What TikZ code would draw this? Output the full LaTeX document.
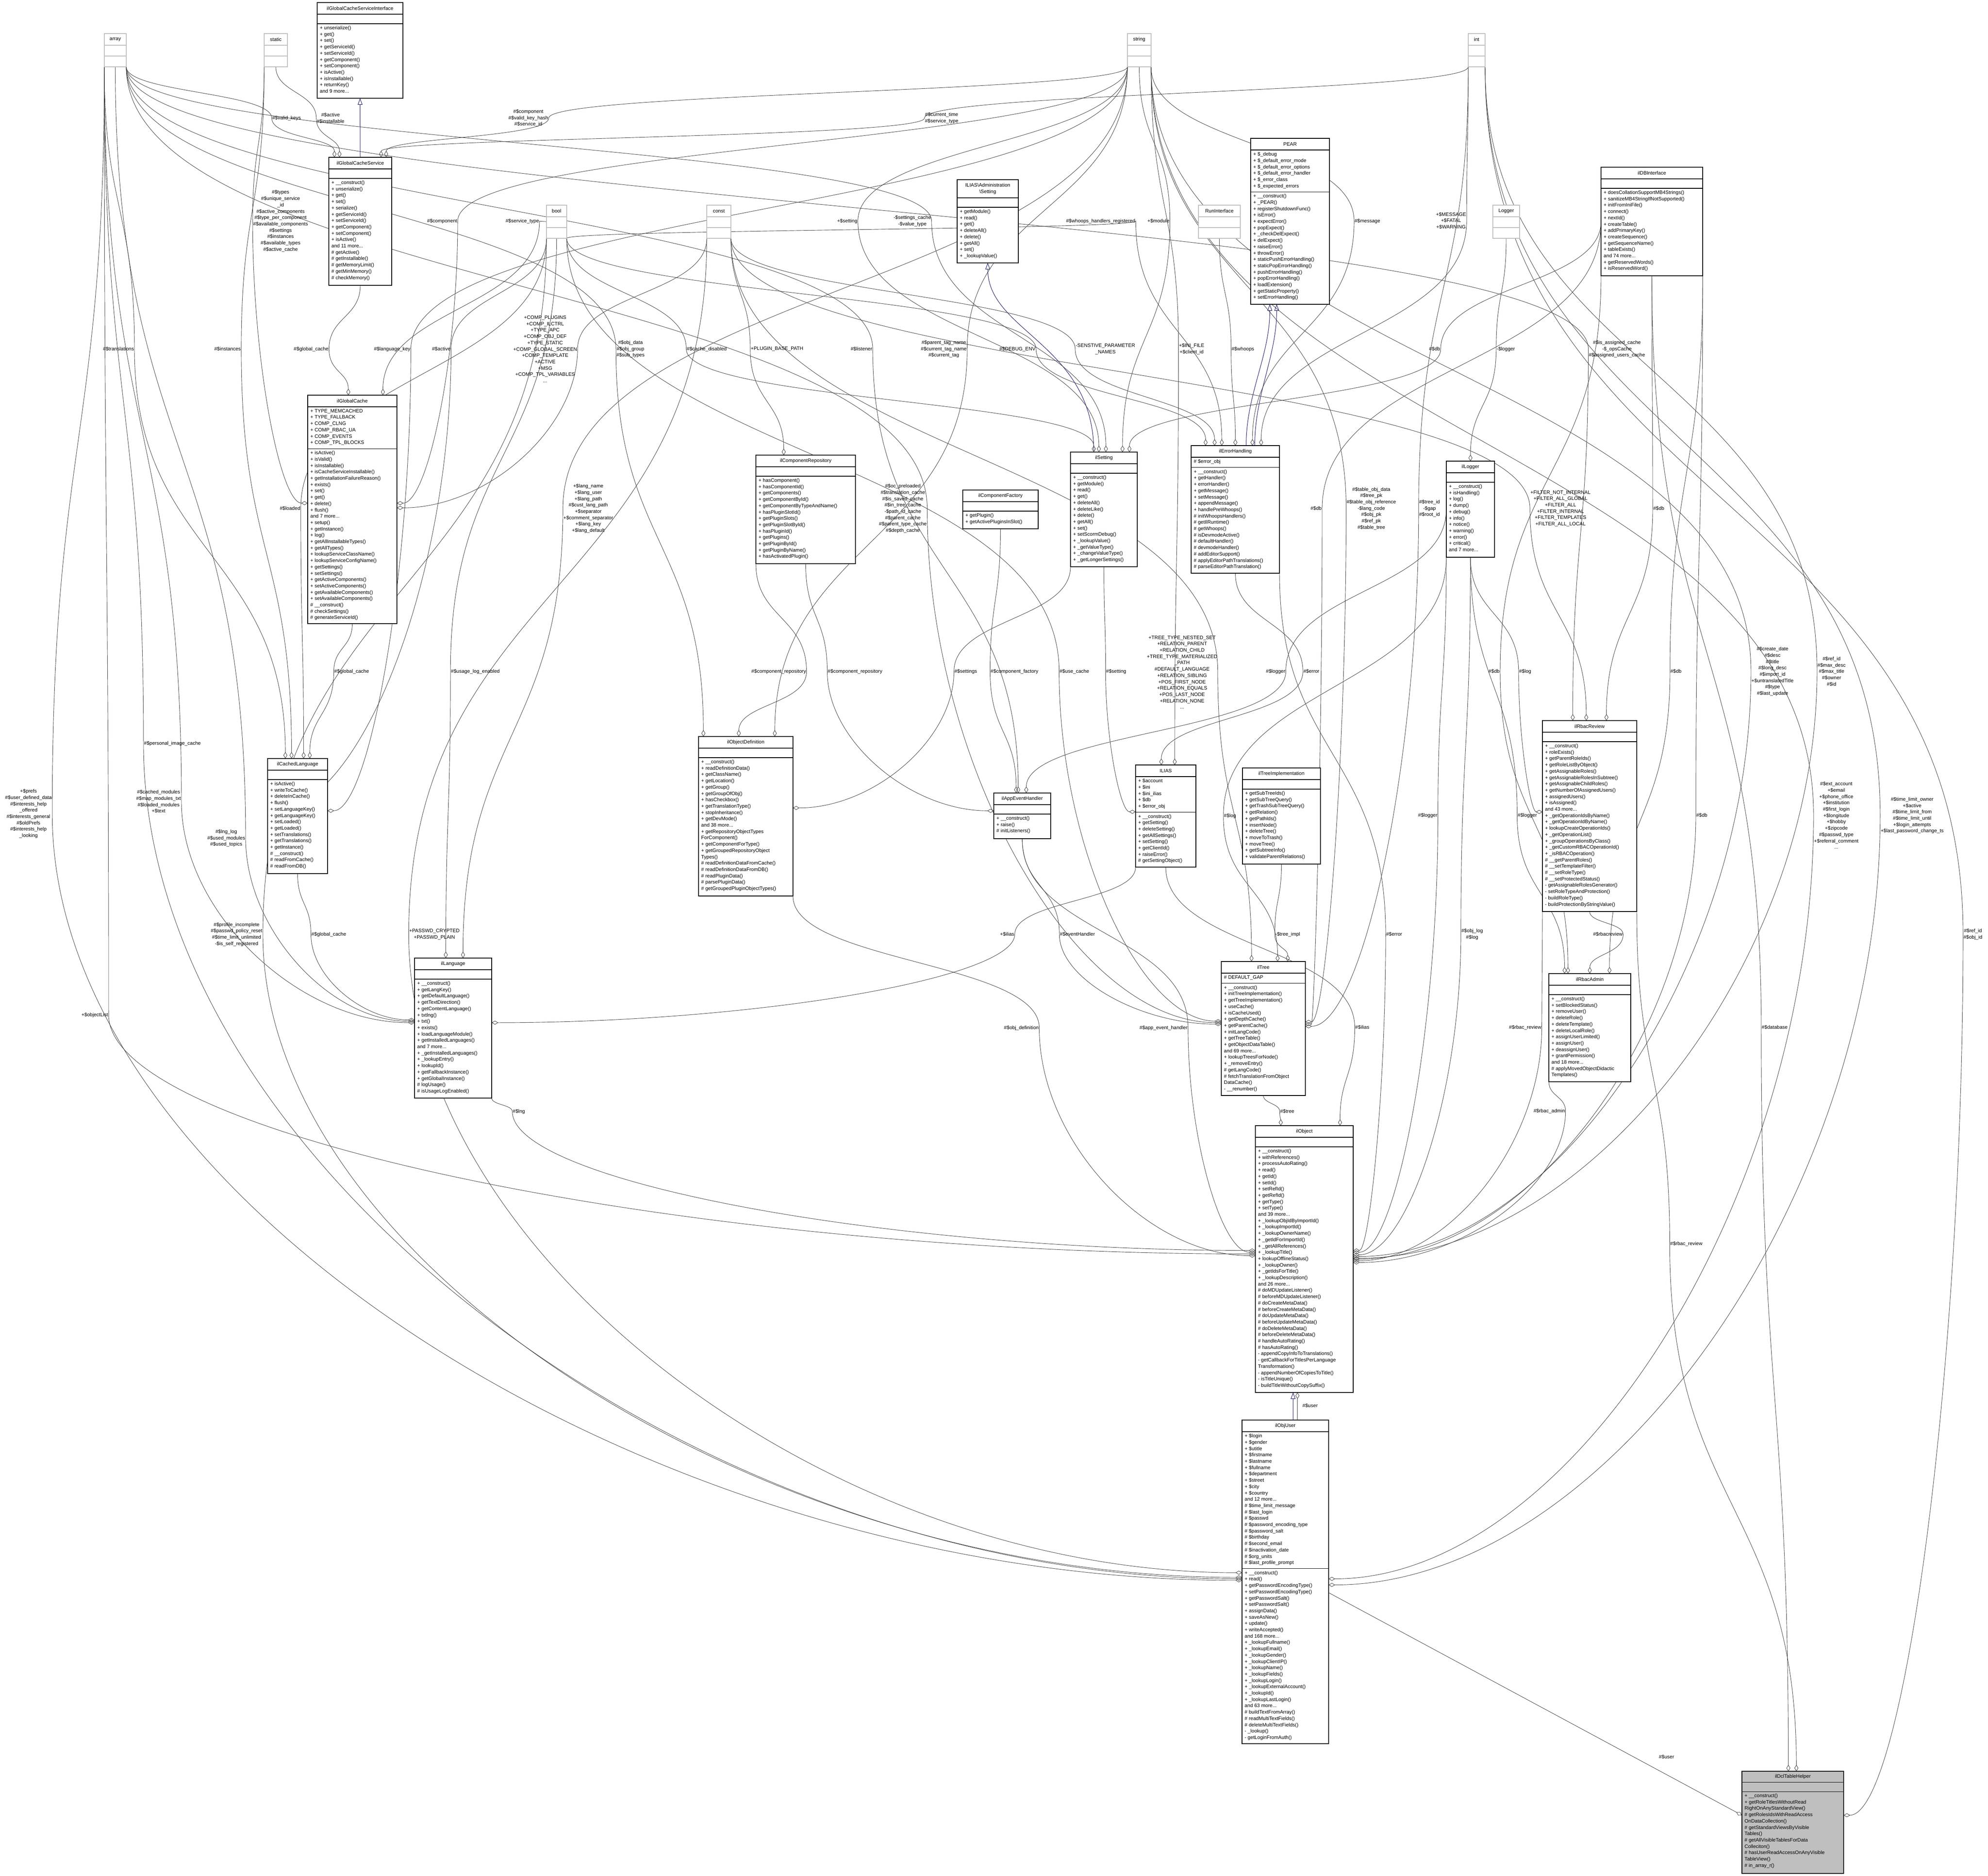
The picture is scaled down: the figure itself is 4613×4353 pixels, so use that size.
\documentclass[tikz,border=0pt]{standalone}
\usepackage{fontspec}
\setmainfont{Liberation Sans}
\usetikzlibrary{arrows.meta,calc}
\pgfdeclarelayer{bg}
\pgfsetlayers{bg,main}
\newcommand\mf{\fontsize{11.5}{14.7}\selectfont}
\definecolor{lgrey}{HTML}{BFBFBF}
\definecolor{inhblue}{HTML}{191970}
\def\clsfill{white}
\tikzset{
 clsbox/.style={draw,line width=1.4pt,inner sep=0pt,outer sep=0pt,anchor=north west},
 secline/.style={line width=1.1pt},
 gboxst/.style={draw=lgrey,line width=1.3pt,fill=white,inner sep=0pt,outer sep=0pt,anchor=north west,minimum height=77pt},
 ttl/.style={font=\mf,align=center,inner sep=0pt},
 mem/.style={font=\mf,align=left,inner sep=0pt,anchor=north west},
 lbl/.style={font=\mf,align=center,inner sep=1pt},
 agg/.style={draw=black!75,line width=0.9pt,-{Diamond[open,length=15pt,width=9pt,line width=0.9pt]}},
 inh/.style={draw=inhblue,line width=1pt,-{Triangle[open,length=15pt,width=11pt,line width=1pt]}}
}
\newcommand\cls[8][27]{%
 \pgfmathsetmacro\sA{#4+#1}%
 \pgfmathsetmacro\sB{\sA+max(22,#7*14.7+9)}%
 \node[clsbox,fill=\clsfill,minimum width={(#5-#3)*1pt},minimum height={(#6-#4)*1pt}] (#2) at (#3,#4) {};
 \draw[secline] (#3,\sA) -- (#5,\sA) (#3,\sB) -- (#5,\sB);
 \coordinate (#2-a) at ({#3+6},{\sA+5});
 \coordinate (#2-m) at ({#3+6},{\sB+5});
 \node[ttl] at ({(#3+#5)/2},{#4+#1/2}) {#8};
}
\newcommand\gbox[5][78]{%
 \node[gboxst,minimum width={(#4-#3)*1pt}] (#2) at (#3,#1) {};
 \draw[draw=lgrey,line width=1.1pt] (#3,#1+27) -- (#4,#1+27) (#3,#1+52) -- (#4,#1+52);
 \node[ttl] at ({(#3+#4)/2},{#1+13.5}) {#5};
}
\newcommand\ev[3]{\draw[agg] (#1) .. controls ($(#1)!0.5!(#1|-#2)$) and ($(#2)!0.5!(#2|-#1)$) .. (#2) .. controls ($(#2)!0.5!(#2|-#3)$) and ($(#3)!0.5!(#3|-#2)$) .. (#3);}
\newcommand\eh[3]{\draw[agg] (#1) .. controls ($(#1)!0.5!(#1|-#2)$) and ($(#2)!0.5!(#2|-#1)$) .. (#2) .. controls ($(#2)!0.5!(#2|-#3)$) and ($(#3)!0.5!(#3-|#2)$) .. (#3);}
\begin{document}
\begin{tikzpicture}[x=1pt,y=-1pt]
\begin{pgfonlayer}{bg}
\fill[white] (0,0) rectangle (4613,4353);
\end{pgfonlayer}
\useasboundingbox (0,0) rectangle (4613,4353);
% ---------- grey type boxes
\gbox{array}{242}{293}{array}
\gbox{static}{613}{667}{static}
\gbox{string}{2616}{2671}{string}
\gbox{int}{3407}{3446}{int}
\gbox[476]{bool}{1268}{1315}{bool}
\gbox[476]{const}{1640}{1696}{const}
\gbox[476]{RunInterface}{2781}{2878}{RunInterface}
\gbox[476]{Logger}{3464}{3526}{Logger}
% ---------- classes
\cls{IGCSI}{736}{6}{935}{228}{0}{ilGlobalCacheServiceInterface}
\node[mem] at (IGCSI-m) {+ unserialize()\\+ get()\\+ set()\\+ getServiceId()\\+ setServiceId()\\+ getComponent()\\+ setComponent()\\+ isActive()\\+ isInstallable()\\+ returnKey()\\and 9 more...};
\cls{IGCS}{763}{365}{909}{662}{0}{ilGlobalCacheService}
\node[mem] at (IGCS-m) {+ \_\_construct()\\+ unserialize()\\+ get()\\+ set()\\+ serialize()\\+ getServiceId()\\+ setServiceId()\\+ getComponent()\\+ setComponent()\\+ isActive()\\and 11 more...\\\# getActive()\\\# getInstallable()\\\# getMemoryLimit()\\\# getMinMemory()\\\# checkMemory()};
\cls{ilGlobalCache}{714}{917}{921}{1447}{6}{ilGlobalCache}
\node[mem] at (ilGlobalCache-a) {+ TYPE\_MEMCACHED\\+ TYPE\_FALLBACK\\+ COMP\_CLNG\\+ COMP\_RBAC\_UA\\+ COMP\_EVENTS\\+ COMP\_TPL\_BLOCKS};
\node[mem] at (ilGlobalCache-m) {+ isActive()\\+ isValid()\\+ isInstallable()\\+ isCacheServiceInstallable()\\+ getInstallationFailureReason()\\+ exists()\\+ set()\\+ get()\\+ delete()\\+ flush()\\and 7 more...\\+ setup()\\+ getInstance()\\+ log()\\+ getAllInstallableTypes()\\+ getAllTypes()\\+ lookupServiceClassName()\\+ lookupServiceConfigName()\\+ getSettings()\\+ setSettings()\\+ getActiveComponents()\\+ setActiveComponents()\\+ getAvailableComponents()\\+ setAvailableComponents()\\\# \_\_construct()\\\# checkSettings()\\\# generateServiceId()};
\cls[42]{ASetting}{2221}{417}{2363}{610}{0}{ILIAS\textbackslash Administration\\\textbackslash Setting}
\node[mem] at (ASetting-m) {+ getModule()\\+ read()\\+ get()\\+ deleteAll()\\+ delete()\\+ getAll()\\+ set()\\+ \_lookupValue()};
\cls{PEAR}{2902}{321}{3085}{706}{6}{PEAR}
\node[mem] at (PEAR-a) {+ \$\_debug\\+ \$\_default\_error\_mode\\+ \$\_default\_error\_options\\+ \$\_default\_error\_handler\\+ \$\_error\_class\\+ \$\_expected\_errors};
\node[mem] at (PEAR-m) {+ \_\_construct()\\+ \_PEAR()\\+ registerShutdownFunc()\\+ isError()\\+ expectError()\\+ popExpect()\\+ \_checkDelExpect()\\+ delExpect()\\+ raiseError()\\+ throwError()\\+ staticPushErrorHandling()\\+ staticPopErrorHandling()\\+ pushErrorHandling()\\+ popErrorHandling()\\+ loadExtension()\\+ getStaticProperty()\\+ setErrorHandling()};
\cls{ilDBInterface}{3715}{388}{3951}{640}{0}{ilDBInterface}
\node[mem] at (ilDBInterface-m) {+ doesCollationSupportMB4Strings()\\+ sanitizeMB4StringIfNotSupported()\\+ initFromIniFile()\\+ connect()\\+ nextId()\\+ createTable()\\+ addPrimaryKey()\\+ createSequence()\\+ getSequenceName()\\+ tableExists()\\and 74 more...\\+ getReservedWords()\\+ isReservedWord()};
\cls{ilComponentRepository}{1754}{1056}{1985}{1308}{0}{ilComponentRepository}
\node[mem] at (ilComponentRepository-m) {+ hasComponent()\\+ hasComponentId()\\+ getComponents()\\+ getComponentById()\\+ getComponentByTypeAndName()\\+ hasPluginSlotId()\\+ getPluginSlots()\\+ getPluginSlotById()\\+ hasPluginId()\\+ getPlugins()\\+ getPluginById()\\+ getPluginByName()\\+ hasActivatedPlugin()};
\cls{ilComponentFactory}{2234}{1137}{2409}{1227}{0}{ilComponentFactory}
\node[mem] at (ilComponentFactory-m) {+ getPlugin()\\+ getActivePluginsInSlot()};
\cls{ilSetting}{2484}{1049}{2639}{1315}{0}{ilSetting}
\node[mem] at (ilSetting-m) {+ \_\_construct()\\+ getModule()\\+ read()\\+ get()\\+ deleteAll()\\+ deleteLike()\\+ delete()\\+ getAll()\\+ set()\\+ setScormDebug()\\+ \_lookupValue()\\+ \_getValueType()\\+ \_changeValueType()\\+ \_getLongerSettings()};
\cls{ilErrorHandling}{2764}{1034}{2969}{1330}{1}{ilErrorHandling}
\node[mem] at (ilErrorHandling-a) {\# \$error\_obj};
\node[mem] at (ilErrorHandling-m) {+ \_\_construct()\\+ getHandler()\\+ errorHandler()\\+ getMessage()\\+ setMessage()\\+ appendMessage()\\+ handlePreWhoops()\\\# initWhoopsHandlers()\\\# getIlRuntime()\\\# getWhoops()\\\# isDevmodeActive()\\\# defaultHandler()\\\# devmodeHandler()\\\# addEditorSupport()\\\# applyEditorPathTranslations()\\\# parseEditorPathTranslation()};
\cls{ilLogger}{3356}{1070}{3468}{1293}{0}{ilLogger}
\node[mem] at (ilLogger-m) {+ \_\_construct()\\+ isHandling()\\+ log()\\+ dump()\\+ debug()\\+ info()\\+ notice()\\+ warning()\\+ error()\\+ critical()\\and 7 more...};
\cls{ilCachedLanguage}{621}{1760}{760}{2027}{0}{ilCachedLanguage}
\node[mem] at (ilCachedLanguage-m) {+ isActive()\\+ writeToCache()\\+ deleteInCache()\\+ flush()\\+ setLanguageKey()\\+ getLanguageKey()\\+ setLoaded()\\+ getLoaded()\\+ setTranslations()\\+ getTranslations()\\+ getInstance()\\\# \_\_construct()\\\# readFromCache()\\\# readFromDB()};
\cls{ilObjectDefinition}{1621}{1709}{1840}{2079}{0}{ilObjectDefinition}
\node[mem] at (ilObjectDefinition-m) {+ \_\_construct()\\+ readDefinitionData()\\+ getClassName()\\+ getLocation()\\+ getGroup()\\+ getGroupOfObj()\\+ hasCheckbox()\\+ getTranslationType()\\+ stopInheritance()\\+ getDevMode()\\and 38 more...\\+ getRepositoryObjectTypes\\ForComponent()\\+ getComponentForType()\\+ getGroupedRepositoryObject\\Types()\\\# readDefinitionDataFromCache()\\\# readDefinitionDataFromDB()\\\# readPluginData()\\\# parsePluginData()\\\# getGroupedPluginObjectTypes()};
\cls{ilAppEventHandler}{2306}{1840}{2438}{1946}{0}{ilAppEventHandler}
\node[mem] at (ilAppEventHandler-m) {+ \_\_construct()\\+ raise()\\\# initListeners()};
\cls{ILIAS}{2635}{1775}{2775}{2012}{5}{ILIAS}
\node[mem] at (ILIAS-a) {+ \$account\\+ \$ini\\+ \$ini\_ilias\\+ \$db\\+ \$error\_obj};
\node[mem] at (ILIAS-m) {+ \_\_construct()\\+ getSetting()\\+ deleteSetting()\\+ getAllSettings()\\+ setSetting()\\+ getClientId()\\+ raiseError()\\\# getSettingObject()};
\cls{ilTreeImplementation}{2883}{1782}{3064}{2005}{0}{ilTreeImplementation}
\node[mem] at (ilTreeImplementation-m) {+ getSubTreeIds()\\+ getSubTreeQuery()\\+ getTrashSubTreeQuery()\\+ getRelation()\\+ getPathIds()\\+ insertNode()\\+ deleteTree()\\+ moveToTrash()\\+ moveTree()\\+ getSubtreeInfo()\\+ validateParentRelations()};
\cls{ilRbacReview}{3579}{1672}{3798}{2115}{0}{ilRbacReview}
\node[mem] at (ilRbacReview-m) {+ \_\_construct()\\+ roleExists()\\+ getParentRoleIds()\\+ getRoleListByObject()\\+ getAssignableRoles()\\+ getAssignableRolesInSubtree()\\+ getAssignableChildRoles()\\+ getNumberOfAssignedUsers()\\+ assignedUsers()\\+ isAssigned()\\and 43 more...\\+ \_getOperationIdsByName()\\+ \_getOperationIdByName()\\+ lookupCreateOperationIds()\\+ \_getOperationList()\\+ \_groupOperationsByClass()\\+ \_getCustomRBACOperationId()\\+ \_isRBACOperation()\\\# \_\_getParentRoles()\\\# \_\_setTemplateFilter()\\\# \_\_setRoleType()\\\# \_\_setProtectedStatus()\\- getAssignableRolesGenerator()\\- setRoleTypeAndProtection()\\- buildRoleType()\\- buildProtectionByStringValue()};
\cls{ilRbacAdmin}{3594}{2259}{3784}{2510}{0}{ilRbacAdmin}
\node[mem] at (ilRbacAdmin-m) {+ \_\_construct()\\+ setBlockedStatus()\\+ removeUser()\\+ deleteRole()\\+ deleteTemplate()\\+ deleteLocalRole()\\+ assignUserLimited()\\+ assignUser()\\+ deassignUser()\\+ grantPermission()\\and 18 more...\\\# applyMovedObjectDidactic\\Templates()};
\cls{ilLanguage}{962}{2223}{1141}{2548}{0}{ilLanguage}
\node[mem] at (ilLanguage-m) {+ \_\_construct()\\+ getLangKey()\\+ getDefaultLanguage()\\+ getTextDirection()\\+ getContentLanguage()\\+ txtlng()\\+ txt()\\+ exists()\\+ loadLanguageModule()\\+ getInstalledLanguages()\\and 7 more...\\+ \_getInstalledLanguages()\\+ \_lookupEntry()\\+ lookupId()\\+ getFallbackInstance()\\+ getGlobalInstance()\\\# logUsage()\\\# isUsageLogEnabled()};
\cls{ilTree}{2834}{2231}{3029}{2542}{1}{ilTree}
\node[mem] at (ilTree-a) {\# DEFAULT\_GAP};
\node[mem] at (ilTree-m) {+ \_\_construct()\\+ initTreeImplementation()\\+ getTreeImplementation()\\+ useCache()\\+ isCacheUsed()\\+ getDepthCache()\\+ getParentCache()\\+ initLangCode()\\+ getTreeTable()\\+ getObjectDataTable()\\and 69 more...\\+ lookupTreesForNode()\\+ \_removeEntry()\\\# getLangCode()\\\# fetchTranslationFromObject\\DataCache()\\- \_\_renumber()};
\cls{ilObject}{2913}{2612}{3140}{3231}{0}{ilObject}
\node[mem] at (ilObject-m) {+ \_\_construct()\\+ withReferences()\\+ processAutoRating()\\+ read()\\+ getId()\\+ setId()\\+ setRefId()\\+ getRefId()\\+ getType()\\+ setType()\\and 39 more...\\+ \_lookupObjIdByImportId()\\+ \_lookupImportId()\\+ \_lookupOwnerName()\\+ \_getIdForImportId()\\+ \_getAllReferences()\\+ \_lookupTitle()\\+ lookupOfflineStatus()\\+ \_lookupOwner()\\+ \_getIdsForTitle()\\+ \_lookupDescription()\\and 26 more...\\\# doMDUpdateListener()\\\# beforeMDUpdateListener()\\\# doCreateMetaData()\\\# beforeCreateMetaData()\\\# doUpdateMetaData()\\\# beforeUpdateMetaData()\\\# doDeleteMetaData()\\\# beforeDeleteMetaData()\\\# handleAutoRating()\\\# hasAutoRating()\\- appendCopyInfoToTranslations()\\- getCallbackForTitlesPerLanguage\\Transformation()\\- appendNumberOfCopiesToTitle()\\- isTitleUnique()\\- buildTitleWithoutCopySuffix()};
\cls{ilObjUser}{2882}{3295}{3083}{4046}{21}{ilObjUser}
\node[mem] at (ilObjUser-a) {+ \$login\\+ \$gender\\+ \$utitle\\+ \$firstname\\+ \$lastname\\+ \$fullname\\+ \$department\\+ \$street\\+ \$city\\+ \$country\\and 12 more...\\\# \$time\_limit\_message\\\# \$last\_login\\\# \$passwd\\\# \$password\_encoding\_type\\\# \$password\_salt\\\# \$birthday\\\# \$second\_email\\\# \$inactivation\_date\\\# \$org\_units\\\# \$last\_profile\_prompt};
\node[mem] at (ilObjUser-m) {+ \_\_construct()\\+ read()\\+ getPasswordEncodingType()\\+ setPasswordEncodingType()\\+ getPasswordSalt()\\+ setPasswordSalt()\\+ assignData()\\+ saveAsNew()\\+ update()\\+ writeAccepted()\\and 168 more...\\+ \_lookupFullname()\\+ \_lookupEmail()\\+ \_lookupGender()\\+ \_lookupClientIP()\\+ \_lookupName()\\+ \_lookupFields()\\+ \_lookupLogin()\\+ \_lookupExternalAccount()\\+ \_lookupId()\\+ \_lookupLastLogin()\\and 63 more...\\\# buildTextFromArray()\\\# readMultiTextFields()\\\# deleteMultiTextFields()\\- \_lookup()\\- getLoginFromAuth()};
\def\clsfill{lgrey}
\cls[25]{ilDclTableHelper}{4042}{4110}{4278}{4347}{0}{ilDclTableHelper}
\node[mem] at (ilDclTableHelper-m) {+ \_\_construct()\\+ getRoleTitlesWithoutRead\\RightOnAnyStandardView()\\\# getRolesIdsWithReadAccess\\OnDataCollection()\\\# getStandardViewsByVisible\\Tables()\\\# getAllVisibleTablesForData\\Colleciton()\\\# hasUserReadAccessOnAnyVisible\\TableView()\\\# in\_array\_r()};
% ---------- labels
\node[lbl] (La1) at (665,274) {\#\$valid\_keys};
\node[lbl] (La2) at (767,274) {\#\$active\\\#\$installable};
\node[lbl] (La3) at (1226,274) {\#\$component\\\#\$valid\_key\_hash\\\#\$service\_id};
\node[lbl] (La4) at (2185,274) {\#\$current\_time\\\#\$service\_type};
\node[lbl] (La5) at (1212,513) {\#\$service\_type};
\node[lbl] (La6) at (651,513) {\#\$types\\\#\$unique\_service\\\_id\\\#\$active\_components\\\#\$type\_per\_component\\\#\$available\_components\\\#\$settings\\\#\$instances\\\#\$available\_types\\\#\$active\_cache};
\node[lbl] (La7) at (722,810) {\#\$global\_cache};
\node[lbl] (La8) at (1026,513) {\#\$component};
\node[lbl] (La9) at (275,810) {\#\$translations};
\node[lbl] (La10) at (528,810) {\#\$instances};
\node[lbl] (La11) at (910,810) {\#\$language\_key};
\node[lbl] (La12) at (1024,810) {\#\$active};
\node[lbl] (La13) at (673,1180) {\#\$loaded};
\node[lbl] (La14) at (816,1558) {\#\$global\_cache};
\node[lbl] (La15) at (1265,810) {+COMP\_PLUGINS\\+COMP\_ILCTRL\\+TYPE\_APC\\+COMP\_OBJ\_DEF\\+TYPE\_STATIC\\+COMP\_GLOBAL\_SCREEN\\+COMP\_TEMPLATE\\+ACTIVE\\+MSG\\+COMP\_TPL\_VARIABLES\\...};
\node[lbl] (La16) at (1103,1558) {\#\$usage\_log\_enabled};
\node[lbl] (La17) at (1365,1180) {+\$lang\_name\\+\$lang\_user\\+\$lang\_path\\\#\$cust\_lang\_path\\+\$separator\\+\$comment\_separator\\+\$lang\_key\\+\$lang\_default};
\node[lbl] (La18) at (1008,2168) {+PASSWD\_CRYPTED\\+PASSWD\_PLAIN};
\node[lbl] (La19) at (368,1860) {\#\$cached\_modules\\\#\$map\_modules\_txt\\\#\$loaded\_modules\\+\$text};
\node[lbl] (La20) at (525,1945) {\#\$lng\_log\\\#\$used\_modules\\\#\$used\_topics};
\node[lbl] (La21) at (763,2168) {\#\$global\_cache};
\node[lbl] (La22) at (549,2168) {\#\$profile\_incomplete\\\#\$passwd\_policy\_reset\\\#\$time\_limit\_unlimited\\-\$is\_self\_registered};
\node[lbl] (La23) at (400,1725) {\#\$personal\_image\_cache};
\node[lbl] (La24) at (1204,2579) {\#\$lng};
\node[lbl] (La25) at (66,1888) {+\$prefs\\\#\$user\_defined\_data\\\#\$interests\_help\\\_offered\\\#\$interests\_general\\\#\$oldPrefs\\\#\$interests\_help\\\_looking};
\node[lbl] (La26) at (220,2355) {+\$objectList};
\node[lbl] (La27) at (1463,810) {\#\$obj\_data\\\#\$obj\_group\\\#\$sub\_types};
\node[lbl] (La28) at (1640,810) {\#\$cache\_disabled};
\node[lbl] (La29) at (1803,810) {+PLUGIN\_BASE\_PATH};
\node[lbl] (La30) at (1999,810) {\#\$listener};
\node[lbl] (La31) at (1966,513) {+\$setting};
\node[lbl] (La32) at (2117,513) {-\$settings\_cache\\-\$value\_type};
\node[lbl] (La33) at (2190,810) {\#\$parent\_tag\_name\\\#\$current\_tag\_name\\\#\$current\_tag};
\node[lbl] (La34) at (2361,810) {\#\$DEBUG\_ENV};
\node[lbl] (La35) at (2565,810) {-SENSTIVE\_PARAMETER\\\_NAMES};
\node[lbl] (La36) at (2554,513) {\#\$whoops\_handlers\_registered};
\node[lbl] (La37) at (2688,513) {+\$module};
\node[lbl] (La38) at (2765,810) {+\$INI\_FILE\\+\$client\_id};
\node[lbl] (La39) at (2884,810) {\#\$whoops};
\node[lbl] (La40) at (3173,513) {\#\$message};
\node[lbl] (La41) at (3367,512) {+\$MESSAGE\\+\$FATAL\\+\$WARNING};
\node[lbl] (La42) at (3329,810) {\#\$db};
\node[lbl] (La43) at (3494,810) {-\$logger};
\node[lbl] (La44) at (3752,810) {\#\$is\_assigned\_cache\\-\$\_opsCache\\\#\$assigned\_users\_cache};
\node[lbl] (La45) at (2095,1180) {\#\$oc\_preloaded\\\#\$translation\_cache\\\#\$is\_saved\_cache\\\#\$in\_tree\_cache\\-\$path\_id\_cache\\\#\$parent\_cache\\\#\$parent\_type\_cache\\\#\$depth\_cache};
\node[lbl] (La46) at (1807,1558) {\#\$component\_repository};
\node[lbl] (La47) at (1984,1558) {\#\$component\_repository};
\node[lbl] (La48) at (2241,1558) {\#\$settings};
\node[lbl] (La49) at (2354,1558) {\#\$component\_factory};
\node[lbl] (La50) at (2493,1558) {\#\$use\_cache};
\node[lbl] (La51) at (2590,1558) {\#\$setting};
\node[lbl] (La52) at (2743,1560) {+TREE\_TYPE\_NESTED\_SET\\+RELATION\_PARENT\\+RELATION\_CHILD\\+TREE\_TYPE\_MATERIALIZED\\\_PATH\\\#DEFAULT\_LANGUAGE\\+RELATION\_SIBLING\\+POS\_FIRST\_NODE\\+RELATION\_EQUALS\\+POS\_LAST\_NODE\\+RELATION\_NONE\\...};
\node[lbl] (La53) at (3054,1180) {\#\$db};
\node[lbl] (La54) at (2960,1558) {\#\$logger};
\node[lbl] (La55) at (3043,1558) {\#\$error};
\node[lbl] (La56) at (2854,1893) {\#\$log};
\node[lbl] (La57) at (2337,2168) {+\$ilias};
\node[lbl] (La58) at (2500,2168) {\#\$eventHandler};
\node[lbl] (La59) at (2988,2168) {-\$tree\_impl};
\node[lbl] (La60) at (3182,1180) {\#\$table\_obj\_data\\\#\$tree\_pk\\\#\$table\_obj\_reference\\-\$lang\_code\\\#\$obj\_pk\\\#\$ref\_pk\\\#\$table\_tree};
\node[lbl] (La61) at (3317,1180) {\#\$tree\_id\\-\$gap\\\#\$root\_id};
\node[lbl] (La62) at (3621,1180) {+FILTER\_NOT\_INTERNAL\\+FILTER\_ALL\_GLOBAL\\+FILTER\_ALL\\+FILTER\_INTERNAL\\+FILTER\_TEMPLATES\\+FILTER\_ALL\_LOCAL};
\node[lbl] (La63) at (3849,1180) {\#\$db};
\node[lbl] (La64) at (3467,1558) {\#\$db};
\node[lbl] (La65) at (3539,1558) {\#\$log};
\node[lbl] (La66) at (3889,1558) {\#\$db};
\node[lbl] (La67) at (4113,1558) {\#\$create\_date\\\#\$desc\\\#\$title\\\#\$long\_desc\\\#\$import\_id\\+\$untranslatedTitle\\\#\$type\\\#\$last\_update};
\node[lbl] (La68) at (4250,1558) {\#\$ref\_id\\\#\$max\_desc\\\#\$max\_title\\\#\$owner\\\#\$id};
\node[lbl] (La69) at (3313,1892) {\#\$logger};
\node[lbl] (La70) at (3544,1892) {\#\$logger};
\node[lbl] (La71) at (3949,1892) {\#\$db};
\node[lbl] (La72) at (4261,1892) {\#\$ext\_account\\+\$email\\+\$phone\_office\\+\$institution\\\#\$first\_login\\+\$longitude\\+\$hobby\\+\$zipcode\\\#\$passwd\_type\\+\$referral\_comment\\...};
\node[lbl] (La73) at (4437,1892) {\#\$time\_limit\_owner\\+\$active\\\#\$time\_limit\_from\\\#\$time\_limit\_until\\+\$login\_attempts\\+\$last\_password\_change\_ts};
\node[lbl] (La74) at (3235,2168) {\#\$error};
\node[lbl] (La75) at (3416,2168) {\#\$obj\_log\\\#\$log};
\node[lbl] (La76) at (3731,2168) {\#\$rbacreview};
\node[lbl] (La77) at (4578,2168) {\#\$ref\_id\\\#\$obj\_id};
\node[lbl] (La78) at (3161,2384) {\#\$ilias};
\node[lbl] (La79) at (3539,2384) {\#\$rbac\_review};
\node[lbl] (La80) at (4118,2384) {\#\$database};
\node[lbl] (La81) at (3595,2578) {\#\$rbac\_admin};
\node[lbl] (La82) at (3913,2886) {\#\$rbac\_review};
\node[lbl] (La83) at (2370,2385) {\#\$obj\_definition};
\node[lbl] (La84) at (2700,2385) {\#\$app\_event\_handler};
\node[lbl] (La85) at (2987,2579) {\#\$tree};
\node[lbl] (La86) at (3040,3262) {\#\$user};
\node[lbl] (La87) at (3867,4077) {\#\$user};
% ---------- connectors
\begin{pgfonlayer}{bg}
\draw[inh] (IGCS.north) -- (IGCSI.south);
\draw[inh] (ilSetting.100) .. controls +(0,-250) and +(0,160) .. (ASetting.south);
\draw[inh] ([xshift=25pt]ilErrorHandling.north) .. controls +(0,-120) and +(0,120) .. ([xshift=-47pt]PEAR.south);
\draw[inh] ([xshift=45pt]ilErrorHandling.north) .. controls +(0,-120) and +(0,120) .. ([xshift=-31pt]PEAR.south);
\draw[inh] ([xshift=18pt]ilObjUser.north) -- ([xshift=-26pt]ilObject.south);
\draw[agg] ([xshift=28pt]ilObjUser.north) -- ([xshift=-16pt]ilObject.south);
\ev{array.south east}{La1.west}{IGCS.112}
\ev{static.south}{La2.west}{IGCS.108}
\ev{string.south west}{La3.east}{IGCS.68}
\ev{int.south west}{La4.west}{IGCS.72}
\ev{bool.west}{La5.east}{ilGlobalCache.75}
\eh{static.south west}{La6.west}{ilGlobalCache.172}
\ev{IGCS.south}{La7.east}{ilGlobalCache.92}
\eh{string.south west}{La8.east}{ilGlobalCache.8}
\ev{array.south west}{La9.east}{ilCachedLanguage.102}
\ev{static.south west}{La10.east}{ilCachedLanguage.96}
\eh{string.south west}{La11.east}{ilCachedLanguage.10}
\eh{bool.south west}{La12.east}{ilCachedLanguage.170}
\ev{bool.south west}{La13.east}{ilCachedLanguage.84}
\ev{ilGlobalCache.south}{La14.west}{ilCachedLanguage.78}
\eh{const.south west}{La15.east}{ilGlobalCache.2}
\ev{bool.south}{La16.west}{ilLanguage.96}
\ev{string.south west}{La17.west}{ilLanguage.82}
\eh{const.south west}{La18.west}{ilObjUser.168}
\eh{array.south west}{La19.east}{ilLanguage.172}
\eh{array.south}{La20.east}{ilLanguage.170}
\eh{ilCachedLanguage.south}{La21.west}{ilLanguage.168}
\eh{bool.south west}{La22.east}{ilObjUser.174}
\eh{array.south west}{La23.west}{ilObjUser.176}
\eh{ilLanguage.south east}{La24.west}{ilObject.170}
\eh{array.south west}{La25.east}{ilObjUser.178}
\eh{array.south west}{La26.east}{ilObject.174}
\ev{array.south east}{La27.west}{ilObjectDefinition.118}
\ev{bool.south east}{La28.west}{ilSetting.100}
\ev{const.south east}{La29.west}{ilComponentRepository.112}
\ev{array.south east}{La30.east}{ilAppEventHandler.100}
\ev{string.south west}{La31.east}{ilSetting.95}
\ev{array.south east}{La32.east}{ilSetting.88}
\ev{string.south west}{La33.east}{ilObjectDefinition.70}
\ev{bool.south east}{La34.east}{ilErrorHandling.115}
\ev{const.south east}{La35.west}{ilErrorHandling.108}
\ev{bool.south east}{La36.east}{ilErrorHandling.102}
\ev{string.south}{La37.east}{ilSetting.72}
\ev{string.south east}{La38.west}{ILIAS.80}
\ev{RunInterface.south}{La39.west}{ilErrorHandling.90}
\ev{string.south east}{La40.west}{ilErrorHandling.75}
\ev{int.south west}{La41.east}{ilErrorHandling.68}
\ev{ilDBInterface.west}{La42.east}{ilSetting.66}
\ev{Logger.south}{La43.west}{ilLogger.north}
\ev{array.south east}{La44.west}{ilRbacReview.100}
\eh{array.south east}{La45.east}{ilTree.172}
\ev{ilComponentRepository.south west}{La46.east}{ilObjectDefinition.95}
\eh{ilComponentRepository.south}{La47.west}{ilAppEventHandler.170}
\eh{ilSetting.south west}{La48.west}{ilObjectDefinition.10}
\ev{ilComponentFactory.south}{La49.west}{ilAppEventHandler.105}
\eh{bool.south east}{La50.west}{ilTree.170}
\eh{ilSetting.south}{La51.west}{ILIAS.172}
\ev{const.south east}{La52.east}{ilTree.100}
\eh{ilDBInterface.west}{La53.east}{ilTree.6}
\ev{ilLogger.west}{La54.east}{ilAppEventHandler.80}
\ev{ilErrorHandling.south}{La55.west}{ILIAS.95}
\ev{ilLogger.south west}{La56.west}{ilTree.78}
\eh{ILIAS.south west}{La57.east}{ilLanguage.8}
\eh{ilAppEventHandler.south}{La58.west}{ilTree.174}
\ev{ilTreeImplementation.south}{La59.west}{ilTree.70}
\eh{string.south east}{La60.west}{ilTree.9}
\eh{int.south west}{La61.west}{ilTree.3}
\ev{const.south east}{La62.west}{ilRbacReview.92}
\ev{ilDBInterface.south}{La63.west}{ilRbacReview.80}
\ev{ilDBInterface.south west}{La64.east}{ilRbacAdmin.112}
\eh{ilLogger.south}{La65.west}{ilRbacReview.175}
\ev{ilDBInterface.south east}{La66.west}{ilRbacAdmin.70}
\eh{string.south east}{La67.west}{ilObject.3}
\eh{int.south east}{La68.west}{ilObject.1}
\eh{ilLogger.south west}{La69.east}{ilObject.8}
\ev{ilLogger.south}{La70.west}{ilRbacAdmin.115}
\eh{ilDBInterface.south east}{La71.west}{ilObject.0}
\eh{string.south east}{La72.west}{ilObjUser.4}
\eh{int.south east}{La73.west}{ilObjUser.-4}
\eh{ilErrorHandling.south east}{La74.west}{ilObject.10}
\eh{ilLogger.south}{La75.west}{ilObject.5}
\ev{ilRbacReview.south}{La76.east}{ilRbacAdmin.north}
\eh{int.south east}{La77.west}{ilDclTableHelper.8}
\ev{ILIAS.south}{La78.west}{ilObject.75}
\eh{ilRbacReview.south west}{La79.east}{ilObject.-2}
\ev{ilDBInterface.south}{La80.west}{ilDclTableHelper.95}
\eh{ilRbacAdmin.south west}{La81.east}{ilObject.-4}
\ev{ilRbacReview.south east}{La82.west}{ilDclTableHelper.86}
\eh{ilObjectDefinition.south east}{La83.east}{ilObject.176}
\eh{ilAppEventHandler.south}{La84.east}{ilObject.172}
\ev{ilTree.south}{La85.west}{ilObject.100}
\draw[agg] (ilObjUser.-14) -- (ilDclTableHelper.172);
\end{pgfonlayer}
\end{tikzpicture}
\end{document}
